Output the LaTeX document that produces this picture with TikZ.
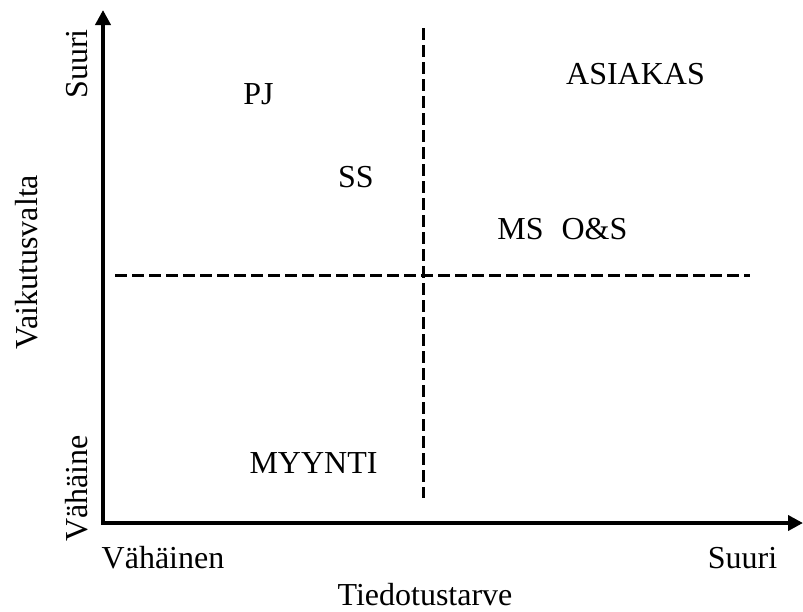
\documentclass[tikz,border=0pt]{standalone}
\usepackage{fontspec}
\setmainfont{Liberation Serif}
\usetikzlibrary{arrows.meta}
\begin{document}
\begin{tikzpicture}[x=1pt,y=-1pt,
  axis/.style={line width=4.5pt,{Triangle[length=15pt,width=15pt]}-{Triangle[length=15pt,width=15pt]}},
  divider/.style={line width=3pt,dash pattern=on 12pt off 5pt},
  lbl/.style={inner sep=0pt,anchor=base,font=\fontsize{32}{38}\selectfont},
  rlbl/.style={lbl,rotate=90}]
\useasboundingbox (0,0) rectangle (803,611);
\coordinate (ytip) at (103,10);
\coordinate (o) at (103,523);
\coordinate (xtip) at (803,523);
\coordinate (vtop) at (423,28);
\coordinate (vbot) at (423,498);
\coordinate (hl) at (115,275);
\coordinate (hr) at (750,275);
\draw[axis] (ytip) -- (o) -- (xtip);
\draw[divider] (vtop) -- (vbot);
\draw[divider] (hl) -- (hr);
\node[lbl] (pj) at (258.5,104) {PJ};
\node[lbl] (ss) at (356,187) {SS};
\node[lbl] (asiakas) at (635.5,84) {ASIAKAS};
\node[lbl] (ms) at (520.5,239) {MS};
\node[lbl] (os) at (594.5,239) {O\&S};
\node[lbl] (myynti) at (313.5,473) {MYYNTI};
\node[lbl] (xlow) at (163,568) {Vähäinen};
\node[lbl] (xhigh) at (742.5,568) {Suuri};
\node[lbl] (xtitle) at (425,605) {Tiedotustarve};
\node[rlbl] (yhigh) at (87,64) {Suuri};
\node[rlbl] (ylow) at (87,488.5) {Vähäine};
\node[rlbl] (ytitle) at (37,262) {Vaikutusvalta};
\end{tikzpicture}
\end{document}
